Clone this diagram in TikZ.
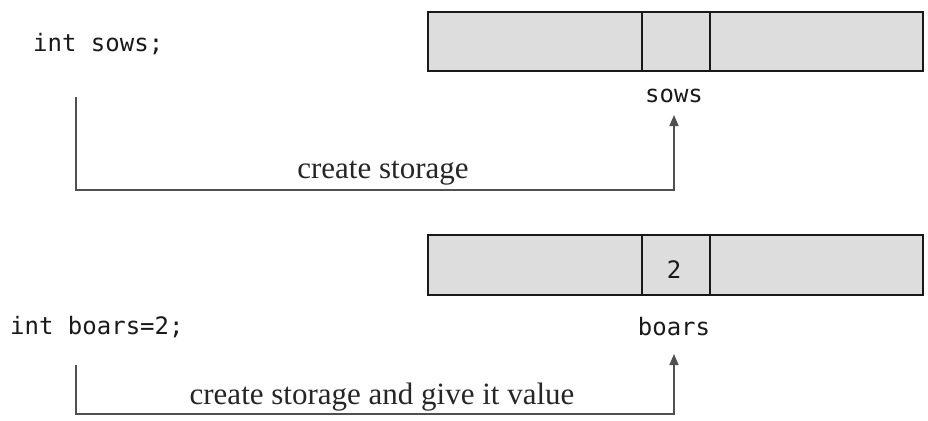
\documentclass[tikz,border=0pt]{standalone}
\usepackage{fontspec}
\setmainfont{Liberation Serif}
\newfontfamily\codefont{DejaVu Sans Mono}
\usetikzlibrary{arrows.meta}
\definecolor{cellfill}{RGB}{221,221,221}
\definecolor{linegray}{RGB}{80,80,80}
\begin{document}
\begin{tikzpicture}[x=1pt,y=-1pt,
  cell/.style={draw=black!90, fill=cellfill, line width=2.8pt, anchor=north west, inner sep=0pt, outer sep=0pt},
  codetext/.style={font=\codefont\fontsize{24}{27}\selectfont, inner sep=0pt, text=black!90},
  serif/.style={font=\fontsize{31}{34}\selectfont, inner sep=0pt, text=black!85},
  conn/.style={draw=linegray, line width=1.6pt},
  arr/.style={conn, -{Triangle[length=11pt,width=9pt]}}]
\useasboundingbox (0,0) rectangle (928,420);
% top memory row
\node[cell, minimum width=214pt, minimum height=59pt] (a1) at (428,12) {};
\node[cell, minimum width=68pt, minimum height=59pt] (a2) at (642,12) {};
\node[cell, minimum width=213pt, minimum height=59pt] (a3) at (710,12) {};
% bottom memory row
\node[cell, minimum width=214pt, minimum height=60pt] (b1) at (428,235) {};
\node[cell, minimum width=68pt, minimum height=60pt] (b2) at (642,235) {};
\node[cell, minimum width=213pt, minimum height=60pt] (b3) at (710,235) {};
\node[codetext, anchor=base] (two) at (674,278) {2};
% texts
\node[codetext, anchor=base west] (decl1) at (33,52) {int sows;};
\node[codetext, anchor=base] (sows) at (674,102) {sows};
\node[serif, anchor=base] (lab1) at (383,178) {create storage};
\node[codetext, anchor=base west] (decl2) at (10,334) {int boars=2;};
\node[codetext, anchor=base] (boars) at (674,335) {boars};
\node[serif, anchor=base] (lab2) at (382,404) {create storage and give it value};
% connectors
\coordinate (s1) at (76,97);
\coordinate (c1) at (674,190);
\coordinate (t1) at (674,115);
\draw[arr] (s1) |- (c1) -- (t1);
\coordinate (s2) at (76,365);
\coordinate (c2) at (674,414);
\coordinate (t2) at (674,354);
\draw[arr] (s2) |- (c2) -- (t2);
\end{tikzpicture}
\end{document}
